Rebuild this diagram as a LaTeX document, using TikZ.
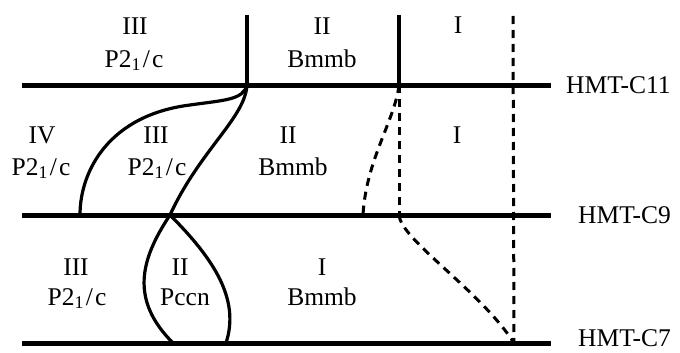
\documentclass[tikz,border=0pt]{standalone}
\usepackage{fontspec}
\setmainfont{Liberation Serif}
\newcommand{\pgrp}{P2\textsubscript{1}\kern2pt/\kern2pt c}
\begin{document}
\begin{tikzpicture}[x=1pt,y=-1pt,
  level/.style={line width=5pt},
  bound/.style={line width=3.2pt},
  dbound/.style={line width=3pt,dash pattern=on 8pt off 6pt},
  lab/.style={font=\fontsize{25.5}{28}\selectfont,anchor=base,inner sep=0pt},
  hmt/.style={font=\fontsize{25.5}{28}\selectfont,anchor=base west,inner sep=0pt}]
\useasboundingbox (0,0) rectangle (680,353);
% coordinates
\coordinate (c11l) at (22,85);  \coordinate (c11r) at (551,85);
\coordinate (c9l) at (22,215);  \coordinate (c9r) at (551,215);
\coordinate (c7l) at (22,343);  \coordinate (c7r) at (551,343);
\coordinate (ja) at (247,85);   \coordinate (jat) at (247,15);
\coordinate (jb) at (399,85);   \coordinate (jbt) at (399,15);
\coordinate (jbb) at (399,215);
\coordinate (dt) at (513,16);   \coordinate (db) at (514,343);
\coordinate (m1) at (80,215);   \coordinate (m2) at (170,215);
\coordinate (m3) at (363,215);
\coordinate (b1) at (173,343);  \coordinate (b2) at (226,343);
% level lines
\draw[level] (c11l) -- (c11r);
\draw[level] (c9l) -- (c9r);
\draw[level] (c7l) -- (c7r);
% solid boundaries
\draw[bound] (jat) -- (ja);
\draw[bound] (jbt) -- (jb);
\draw[bound] (ja) .. controls (243,100) and (225,100) .. (190,105)
  .. controls (110,115) and (80,170) .. (m1);
\draw[bound] (ja) .. controls (245,118) and (200,150) .. (m2);
\draw[bound] (m2) .. controls (140,260) and (130,300) .. (b1);
\draw[bound] (m2) .. controls (215,260) and (240,300) .. (b2);
% dashed boundaries
\draw[dbound] (dt) -- (db);
\draw[dbound] (jb) -- (jbb);
\draw[dbound] (jb) .. controls (395,120) and (366,160) .. (m3);
\draw[dbound] (jbb) .. controls (401,240) and (480,290) .. (db);
% labels top row
\node[lab] (t3) at (135,35) {III};
\node[lab] (t3g) at (134,67) {\pgrp};
\node[lab] (t2) at (322,35) {II};
\node[lab] (t2g) at (322,67) {Bmmb};
\node[lab] (t1) at (458,34) {I};
% middle row
\node[lab] (m4l) at (42,143) {IV};
\node[lab] (m4g) at (41,175) {\pgrp};
\node[lab] (m3l) at (156,143) {III};
\node[lab] (m3g) at (157,175) {\pgrp};
\node[lab] (m2l) at (288,143) {II};
\node[lab] (m2g) at (293,175) {Bmmb};
\node[lab] (m1l) at (457,143) {I};
% bottom row
\node[lab] (b3l) at (76,275) {III};
\node[lab] (b3g) at (77,305) {\pgrp};
\node[lab] (b2l) at (180,275) {II};
\node[lab] (b2g) at (185,305) {Pccn};
\node[lab] (b1l) at (322,275) {I};
\node[lab] (b1g) at (322,305) {Bmmb};
% compound labels
\node[hmt] (h11) at (566,93) {HMT-C11};
\node[hmt] (h9) at (578,223) {HMT-C9};
\node[hmt] (h7) at (578,346) {HMT-C7};
\end{tikzpicture}
\end{document}
